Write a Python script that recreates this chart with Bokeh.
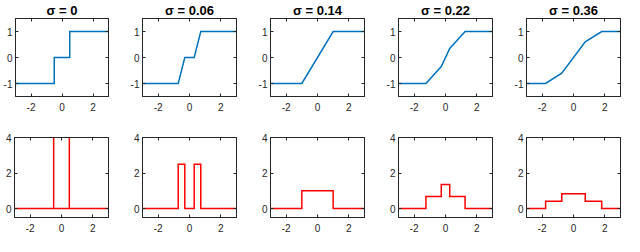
from bokeh.plotting import figure
from bokeh.layouts import column, row
from bokeh.models import Range1d, FixedTicker, LinearAxis, Title
from bokeh.embed import file_html
from bokeh.resources import INLINE

# ---------------- data ----------------
sigma_labels = ["0", "0.06", "0.14", "0.22", "0.36"]

# upper row: piecewise-linear curves (breakpoints)
top_x = [
    [-3, -0.5, -0.5, 0.5, 0.5, 3],
    [-3, -0.72, -0.3, 0.3, 0.72, 3],
    [-3, -1.0, 1.0, 3],
    [-3, -1.25, -0.27, 0.27, 1.25, 3],
    [-3, -1.78, -0.75, 0.75, 1.8, 3],
]
top_y = [
    [-1, -1, 0, 0, 1, 1],
    [-1, -1, 0, 0, 1, 1],
    [-1, -1, 1, 1],
    [-1, -1, -0.35, 0.35, 1, 1],
    [-1, -1, -0.6, 0.6, 1, 1],
]

# lower row: piecewise-constant densities (edges and levels)
bottom_edges = [
    [-0.5, -0.5, 0.5, 0.5],
    [-0.72, -0.3, 0.3, 0.72],
    [-1.0, 1.0],
    [-1.25, -0.27, 0.27, 1.25],
    [-1.78, -0.75, 0.75, 1.8],
]
bottom_levels = [
    [10, 0, 10],
    [2.5, 0, 2.5],
    [1.0],
    [0.68, 1.36, 0.68],
    [0.41, 0.83, 0.41],
]

x_ticks = [-2, 0, 2]
top_y_ticks = [-1, 0, 1]
bottom_y_ticks = [0, 2, 4]
x_range = (-3, 3)
top_y_range = (-1.5, 1.5)
bottom_y_range = (-0.5, 4)

# ---------------- style ----------------
AX = "#262626"
BLUE = "#0072BD"
RED = "#FF0000"
FONT = "Liberation Sans"

widths = [118, 128, 128, 128, 121]
lefts = [14, 24, 24, 24, 24]
rights = [10, 10, 10, 10, 3]

def style_axes(p, xt, yt):
    p.xaxis.ticker = FixedTicker(ticks=xt)
    p.yaxis.ticker = FixedTicker(ticks=yt)
    p.xaxis.major_label_overrides = {t: str(t) for t in xt}
    p.yaxis.major_label_overrides = {t: str(t) for t in yt}
    p.xaxis.major_label_standoff = 6
    p.yaxis.major_label_standoff = 3
    for ax in (p.xaxis[0], p.yaxis[0]):
        ax.axis_line_color = AX
        ax.major_tick_line_color = AX
        ax.major_tick_in = 3
        ax.major_tick_out = 0
        ax.minor_tick_line_color = None
        ax.major_label_text_font = FONT
        ax.major_label_text_font_size = "10px"
        ax.major_label_text_color = AX
    # mirrored ticks on top and right
    for loc, tk in (("above", xt), ("right", yt)):
        a = LinearAxis(ticker=FixedTicker(ticks=tk))
        a.axis_line_color = AX
        a.major_tick_line_color = AX
        a.major_tick_in = 3
        a.major_tick_out = 0
        a.minor_tick_line_color = None
        a.major_label_text_font_size = "0px"
        a.major_label_standoff = 0
        a.major_label_text_color = None
        p.add_layout(a, loc)
    p.grid.visible = False
    p.outline_line_color = AX
    p.background_fill_color = "white"
    p.border_fill_color = "white"

top_figs, bot_figs = [], []
for i in range(5):
    # top: cumulative curves, with title
    ttl = Title(text="σ = " + sigma_labels[i], align="center", text_font=FONT,
                text_font_style="bold", text_font_size="13px", text_color="black",
                standoff=1)
    p = figure(width=widths[i], height=118, output_backend="svg", toolbar_location=None,
               title=ttl, x_range=Range1d(*x_range), y_range=Range1d(*top_y_range),
               min_border_left=lefts[i], min_border_right=rights[i],
               min_border_top=0, min_border_bottom=22)
    style_axes(p, x_ticks, top_y_ticks)
    p.line(top_x[i], top_y[i], line_color=BLUE, line_width=1.5, line_join="miter")
    top_figs.append(p)

    # bottom: densities
    q = figure(width=widths[i], height=118, output_backend="svg", toolbar_location=None,
               title=None, x_range=Range1d(*x_range), y_range=Range1d(*bottom_y_range),
               min_border_left=lefts[i], min_border_right=rights[i],
               min_border_top=19, min_border_bottom=19)
    style_axes(q, x_ticks, bottom_y_ticks)
    e = bottom_edges[i]
    lv = bottom_levels[i]
    xs = [x_range[0], e[0]]
    ys = [0, 0]
    for k in range(len(lv)):
        xs += [e[k], e[k + 1]]
        ys += [lv[k], lv[k]]
    xs += [e[-1], x_range[1]]
    ys += [0, 0]
    q.line(xs, ys, line_color=RED, line_width=1.5, line_join="miter")
    bot_figs.append(q)

layout = column(row(*top_figs), row(*bot_figs))
open("out.html", "w").write(file_html(layout, INLINE))
